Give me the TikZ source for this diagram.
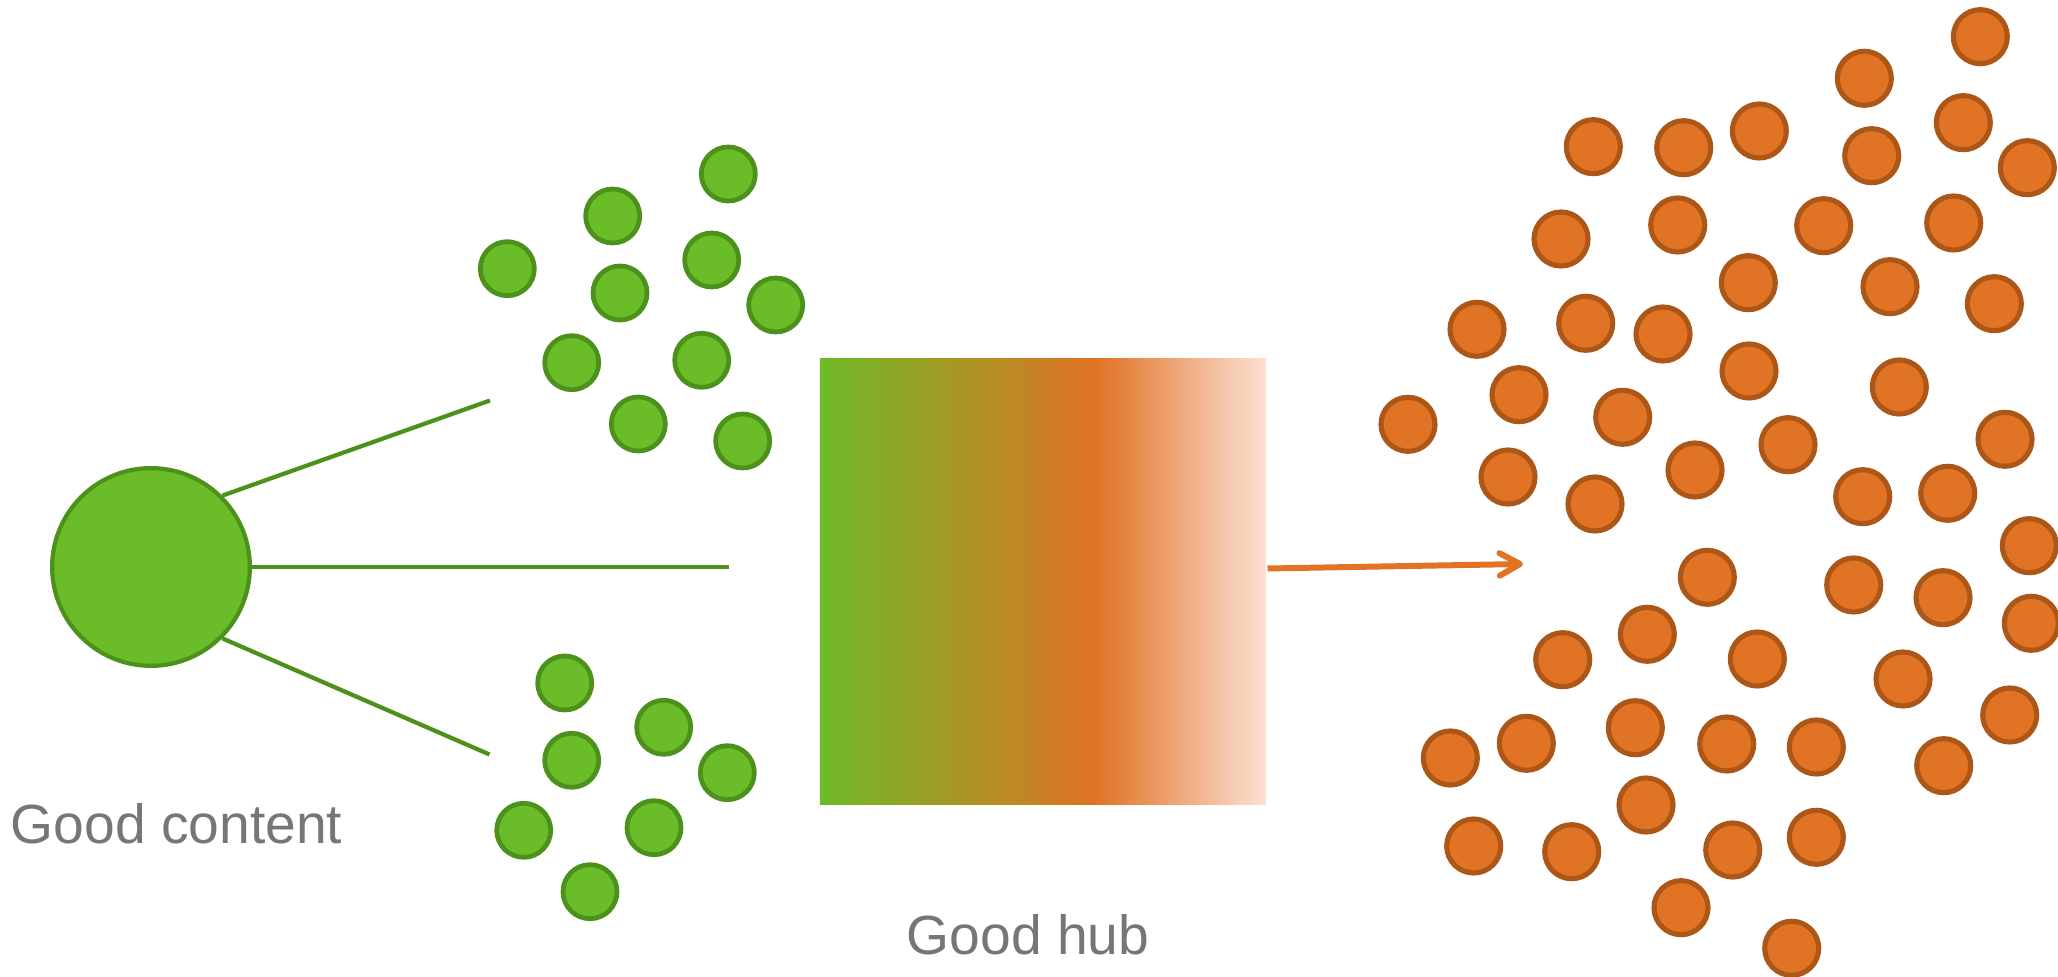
\documentclass[tikz,border=0pt]{standalone}
\usepackage{fontspec}
\setmainfont{Liberation Sans}
\usetikzlibrary{arrows.meta}
\definecolor{gfill}{RGB}{106,188,40}
\definecolor{gline}{RGB}{76,145,28}
\definecolor{ofill}{RGB}{224,115,36}
\definecolor{oline}{RGB}{172,86,23}
\definecolor{hgreen}{RGB}{110,186,39}
\definecolor{horange}{RGB}{224,114,36}
\definecolor{hpale}{RGB}{253,224,212}
\definecolor{txtgray}{RGB}{118,118,120}
\pgfdeclarehorizontalshading{hubshade}{100bp}{color(0bp)=(hgreen); color(25bp)=(hgreen); color(55.8bp)=(horange); color(75bp)=(hpale); color(100bp)=(hpale)}
\begin{document}
\begin{tikzpicture}[x=0.01cm,y=-0.01cm,
  gdot/.style={circle,draw=gline,fill=gfill,line width=1.35pt,minimum size=0.54cm,inner sep=0pt},
  odot/.style={circle,draw=oline,fill=ofill,line width=1.45pt,minimum size=0.54cm,inner sep=0pt},
  bigdot/.style={circle,draw=gline,fill=gfill,line width=1.2pt,minimum size=1.976cm,inner sep=0pt},
  gconn/.style={draw=gline,line width=1.2pt},
  oconn/.style={draw=ofill,line width=1.7pt,-{Straight Barb[length=5.8pt,width=6.4pt,line cap=round,line join=round]}},
  lbl/.style={text=txtgray,font=\fontsize{15.7}{18}\selectfont,inner sep=0pt},
  hubbox/.style={rectangle,shading=hubshade,minimum width=4.46cm,minimum height=4.45cm,inner sep=0pt}]
\useasboundingbox (0,0) rectangle (2058,977);
% hub
\node[hubbox] (hub) at (1043,581.5) {};
% content
\node[bigdot] (content) at (151,567) {};
\coordinate (ltop) at (490,400.5);
\coordinate (lmid) at (728.5,567);
\coordinate (lbot) at (489.5,754.5);
\draw[gconn] (content.45) -- (ltop);
\draw[gconn] (content.east) -- (lmid);
\draw[gconn] (content.-45) -- (lbot);
% green dots
\foreach \x/\y [count=\i] in {728.3/174,612.7/216,507.3/268.7,711.7/260,620/293,775.7/305,571.7/362.7,701.7/360.3,638.3/424,742.7/441,564.7/683,663.7/727.3,571.7/760.3,727.3/772.7,523.7/830.3,654/827.7,590/891.7}
  \node[gdot] (g\i) at (\x,\y) {};
% orange dots
\foreach \x/\y [count=\i] in {1593.3/146.7,1683.7/147.7,1561/239,1677.7/225,1477/329.3,1585.7/323.3,1663/334,1519/394.7,1622.7/417.3,1408/424.3,1508/477,1595/504,1695/470,1980.3/36.7,1864.3/78.3,1963.3/122.7,1759.3/131,1871.7/155.7,2027.3/167.7,1823.7/225.7,1953.7/223,1748.3/282.7,1890/286.7,1994.3/303.7,1749/371,1899.3/387,1788/444.7,2005/439.3,1862.7/496.7,1947.7/493.3,2029.3/545.7,1707.3/577.3,1853.7/585,1943/597.7,2031.3/623.3,1757.3/659,1903/679,2009.7/715,1726.7/744,1816.3/747,1943.7/765.7,1732.7/850,1816.3/837.3,1791.7/948.3,1647.3/634.3,1562.7/659.7,1635.3/727.7,1450.3/758,1526.3/743.3,1646/805,1473.7/846,1571.7/851.7,1681/907.7}
  \node[odot] (o\i) at (\x,\y) {};
% arrow
\coordinate (astart) at (1267.5,568.5);
\coordinate (aend) at (1523,564);
\draw[oconn] (astart) -- (aend);
% labels
\node[lbl,anchor=base west] (contentlbl) at (10,844) {Good content};
\node[lbl,anchor=base west] (hublbl) at (906,955) {Good hub};
\end{tikzpicture}
\end{document}
